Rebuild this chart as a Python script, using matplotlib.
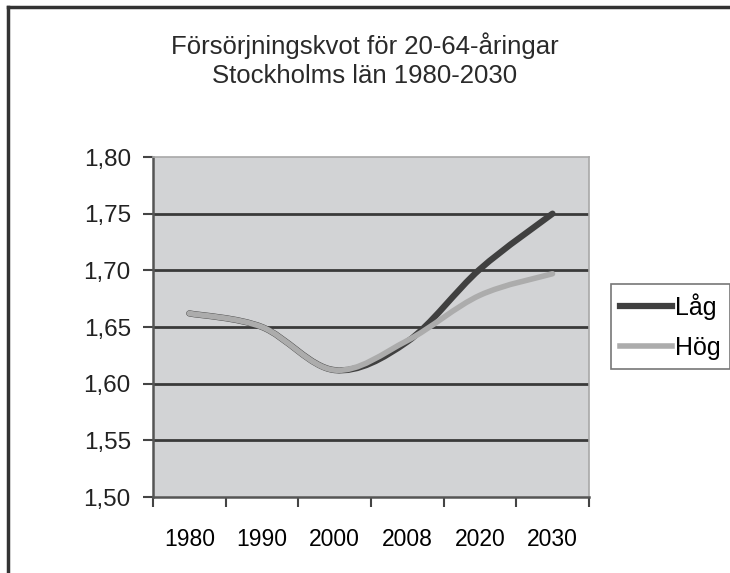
"""Försörjningskvot för 20-64-åringar, Stockholms län 1980-2030 (Excel-style smoothed lines)."""
import matplotlib
matplotlib.use("Agg")
import matplotlib.pyplot as plt
from matplotlib.path import Path
from matplotlib.patches import PathPatch
from matplotlib.lines import Line2D

plt.rcParams.update({"font.family": ["Liberation Sans", "DejaVu Sans"], "font.size": 17})

years = ["1980", "1990", "2000", "2008", "2020", "2030"]
lag = [1.662, 1.650, 1.612, 1.637, 1.701, 1.750]
hog = [1.662, 1.650, 1.612, 1.638, 1.678, 1.697]
yticks = [1.50, 1.55, 1.60, 1.65, 1.70, 1.75, 1.80]


def smooth_path(xs, ys):
    # Excel-like smoothing: cubic bezier segments with Catmull-Rom control points
    pts = list(zip(xs, ys))
    verts, codes = [pts[0]], [Path.MOVETO]
    n = len(pts)
    for i in range(n - 1):
        p0 = pts[i - 1] if i > 0 else pts[i]
        p1, p2 = pts[i], pts[i + 1]
        p3 = pts[i + 2] if i + 2 < n else pts[i + 1]
        c1 = (p1[0] + (p2[0] - p0[0]) / 6, p1[1] + (p2[1] - p0[1]) / 6)
        c2 = (p2[0] - (p3[0] - p1[0]) / 6, p2[1] - (p3[1] - p1[1]) / 6)
        verts += [c1, c2, p2]
        codes += [Path.CURVE4] * 3
    return Path(verts, codes)


fig = plt.figure(figsize=(7.3, 5.73), dpi=100)
ax = fig.add_axes([0.2096, 0.1326, 0.597, 0.5934])
ax.set_facecolor("#d2d3d5")

x = list(range(len(years)))
# Låg first so Hög lies on top where they overlap
for vals, col, lw in [(lag, "#404040", 4.5), (hog, "#acacac", 4)]:
    ax.add_patch(PathPatch(smooth_path(x, vals), fill=False, edgecolor=col, lw=lw,
                           capstyle="round", joinstyle="round", zorder=3))

ax.set_xlim(-0.5, len(years) - 0.5)
ax.set_ylim(1.50, 1.80)
ax.set_yticks(yticks)
ax.set_yticklabels([f"{v:.2f}".replace(".", ",") for v in yticks])
for v in yticks[1:-1]:
    ax.axhline(v, color="#3a3a3a", lw=2, zorder=2)

ax.set_xticks([i - 0.5 for i in range(len(years) + 1)])
ax.set_xticklabels([])
ax.set_xticks(x, minor=True)
ax.set_xticklabels(years, minor=True)
ax.tick_params(axis="x", which="minor", length=0, pad=22, labelsize=16.5)
ax.tick_params(axis="x", which="major", length=7, width=1.5, color="#444444", direction="out")
ax.tick_params(axis="y", length=7, width=1.5, color="#444444", pad=9, direction="out",
               labelsize=17.5)
ax.tick_params(labelcolor="#222222")

for s in ["left", "bottom"]:
    ax.spines[s].set_color("#555555")
    ax.spines[s].set_linewidth(1.8)
for s in ["top", "right"]:
    ax.spines[s].set_color("#a8a8a8")
    ax.spines[s].set_linewidth(1.2)

fig.text(0.5, 0.921, "Försörjningskvot för 20-64-åringar", ha="center", va="center",
         fontsize=18.5, color="#2a2a2a")
fig.text(0.5, 0.868, "Stockholms län 1980-2030", ha="center", va="center",
         fontsize=18.5, color="#2a2a2a")

handles = [Line2D([], [], color="#404040", lw=4.5), Line2D([], [], color="#acacac", lw=4)]
leg = fig.legend(handles, ["Låg", "Hög"], loc="center left", bbox_to_anchor=(0.837, 0.43),
                 frameon=True, fancybox=False, handlelength=2.1, handletextpad=0.12,
                 borderpad=0.35, labelspacing=0.65, fontsize=18, borderaxespad=0)
leg.get_frame().set_edgecolor("#555555")
leg.get_frame().set_linewidth(1.2)

# chart-area border: left and top edges only
fig.add_artist(Line2D([0.011, 0.011], [0, 0.988], color="#333333", lw=2.5, transform=fig.transFigure))
fig.add_artist(Line2D([0.011, 1.0], [0.988, 0.988], color="#333333", lw=2.5, transform=fig.transFigure))

fig.savefig("out.png", dpi=100)
